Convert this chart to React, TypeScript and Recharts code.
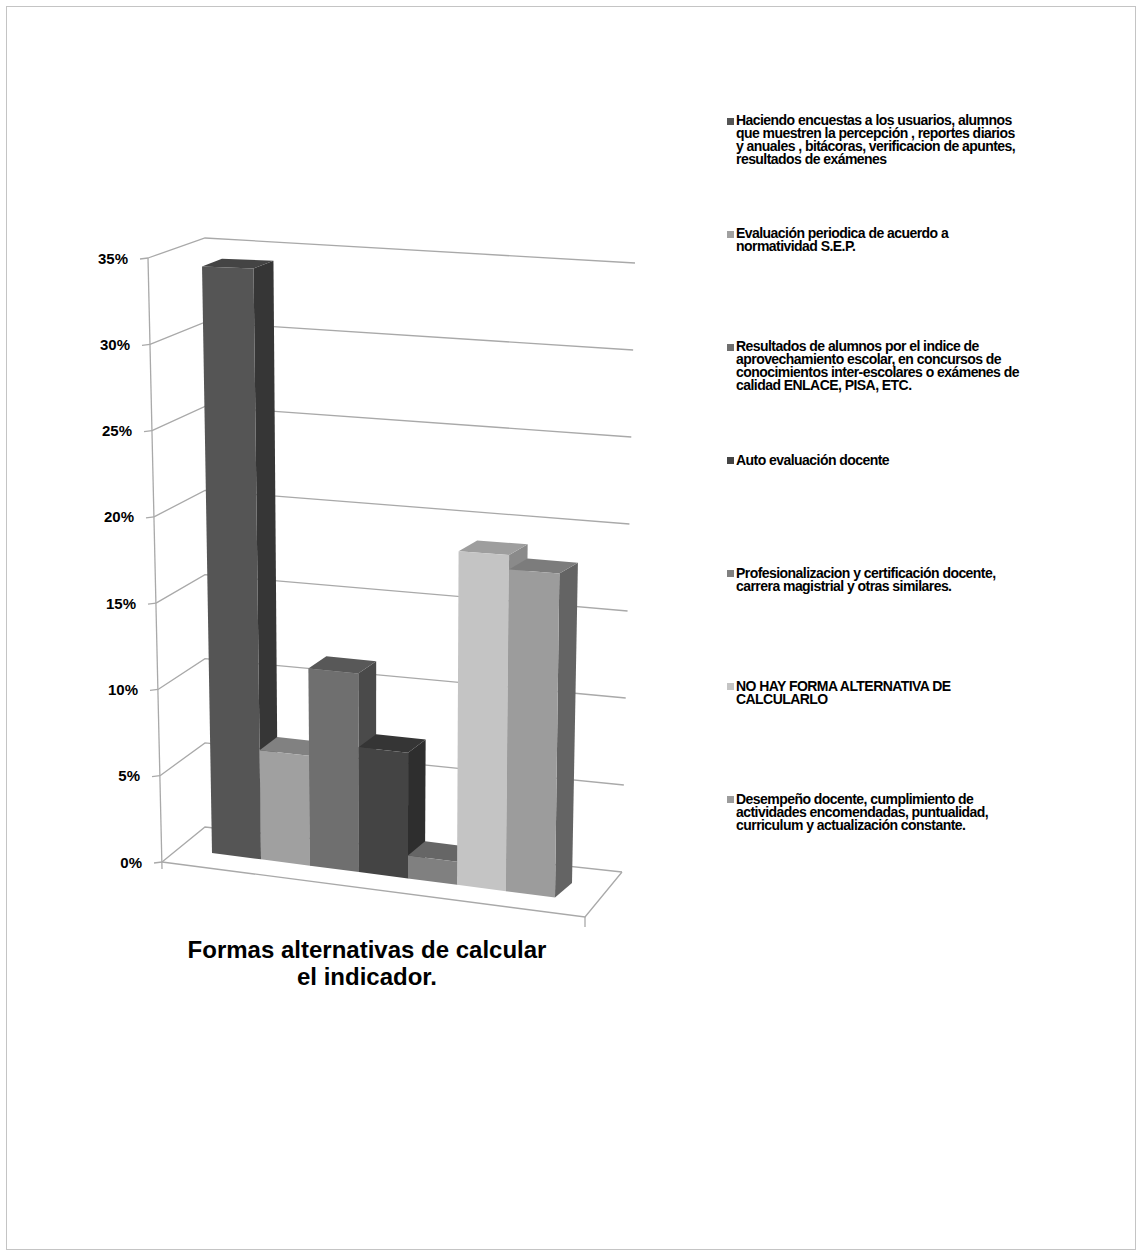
import React from 'react';
import { BarChart, Bar, XAxis, YAxis, CartesianGrid } from 'recharts';

const categories = ['Formas alternativas de calcular el indicador.'];
const seriesNames = [
  'Haciendo encuestas a los usuarios, alumnos\nque muestren la percepción , reportes diarios\ny anuales , bitácoras, verificacion de apuntes,\nresultados de exámenes',
  'Evaluación periodica de acuerdo a\nnormatividad S.E.P.',
  'Resultados de alumnos por el indice de\naprovechamiento escolar, en concursos de\nconocimientos inter-escolares o exámenes de\ncalidad ENLACE, PISA, ETC.',
  'Auto evaluación docente',
  'Profesionalizacion y certificación docente,\ncarrera magistrial y otras similares.',
  'NO HAY FORMA ALTERNATIVA DE\nCALCULARLO',
  'Desempeño docente, cumplimiento de\nactividades encomendadas, puntualidad,\ncurriculum y actualización constante.',
];
const seriesValues = [34.1, 6.3, 11.3, 7.1, 1.3, 18.7, 17.9];
const yTicks = [0, 5, 10, 15, 20, 25, 30, 35];
const tickLabels = ['0%', '5%', '10%', '15%', '20%', '25%', '30%', '35%'];
const titleLines = ['Formas alternativas de calcular', 'el indicador.'];

const frontColors = ['#555555', '#a0a0a0', '#6f6f6f', '#444444', '#808080', '#c4c4c4', '#9c9c9c'];
const topColors = ['#444444', '#818181', '#585858', '#353535', '#666666', '#9e9e9e', '#7c7c7c'];
const sideColors = ['#363636', '#6a6a6a', '#4a4a4a', '#2e2e2e', '#555555', '#8a8a8a', '#646464'];

const W = 1142;
const H = 1256;
const PLOT_TOP = 258;
const PLOT_BOTTOM = 862;
const PLOT_H = PLOT_BOTTOM - PLOT_TOP;
const PLOT_LEFT = 162;
const PLOT_RIGHT = 608;
const FONT = '"Liberation Sans", Arial, sans-serif';
const GRID = '#a9a9a9';

const data = categories.map((name) => {
  const row: Record<string, any> = { name };
  seriesValues.forEach((v, i) => {
    row['s' + i] = v;
  });
  return row;
});

function proj(x: number, hh: number): [number, number] {
  const r = 0.9967 * (1 + 0.000153 * (x - 212));
  const h = hh * r;
  return [x + (x - 403) * h * 8.9e-5, 853 + (x - 212) * 0.13 - h];
}
function depth(hh: number): [number, number] {
  const t = hh / PLOT_H;
  return [17 + 3 * t, -14.5 + 7 * t];
}
const pts = (a: [number, number][]) => a.map((p) => p[0].toFixed(2) + ',' + p[1].toFixed(2)).join(' ');

function Box3D(props: any) {
  const { x, width, height, si } = props;
  const hh = Math.max(0, height || 0);
  const w = width;
  const p1 = proj(x, 0);
  const p2 = proj(x + w, 0);
  const p3 = proj(x + w, hh);
  const p4 = proj(x, hh);
  const dT = depth(hh);
  const d0 = depth(0);
  const top: [number, number][] = [p4, p3, [p3[0] + dT[0], p3[1] + dT[1]], [p4[0] + dT[0], p4[1] + dT[1]]];
  const side: [number, number][] = [p2, p3, [p3[0] + dT[0], p3[1] + dT[1]], [p2[0] + d0[0], p2[1] + d0[1]]];
  const front: [number, number][] = [p1, p2, p3, p4];
  return (
    <g>
      <polygon points={pts(side)} fill={sideColors[si]} />
      <polygon points={pts(top)} fill={topColors[si]} />
      <polygon points={pts(front)} fill={frontColors[si]} />
    </g>
  );
}

function GridLine(props: any) {
  const y = props.y1;
  const t = (PLOT_BOTTOM - y) / PLOT_H;
  const fx = PLOT_LEFT - 14 * t;
  const bx = fx + 43 + 14 * t;
  const by = y - 35 + 15 * t;
  const rx = 622 + 13 * t;
  const ry = 872 - 609 * t;
  const isBase = t < 0.001;
  return (
    <g>
      <path d={`M${fx},${y} L${bx},${by} L${rx},${ry}`} stroke={GRID} strokeWidth={1.3} fill="none" />
      <path d={`M${fx - 8},${y + 1} L${fx},${y}`} stroke={GRID} strokeWidth={1.3} fill="none" />
      {isBase && (
        <g>
          <path d={`M${fx},${y + 7} L${fx - 14},${y - PLOT_H}`} stroke={GRID} strokeWidth={1.3} fill="none" />
          <path d={`M${fx},${y} L585,917 L622,872`} stroke={GRID} strokeWidth={1.3} fill="none" />
          <path d={`M585,917 L585,927`} stroke={GRID} strokeWidth={1.3} fill="none" />
        </g>
      )}
    </g>
  );
}

function YTick(props: any) {
  const { y, payload } = props;
  const t = (PLOT_BOTTOM - y) / PLOT_H;
  const fx = PLOT_LEFT - 14 * t;
  const idx = yTicks.indexOf(payload.value);
  return (
    <text x={fx - 20} y={y + 5.5} textAnchor="end" fontFamily={FONT} fontWeight="bold" fontSize={15} fill="#000">
      {tickLabels[idx]}
    </text>
  );
}

export default function App() {
  return (
    <div style={{ position: 'absolute', left: 0, top: 0, width: W, height: H, background: '#fff', overflow: 'hidden' }}>
      <div style={{ position: 'absolute', left: 6, top: 6, width: 1128, height: 1242, border: '1px solid #c4c4c4' }} />
      <div style={{ position: 'absolute', left: 0, top: 0 }}>
        <BarChart
          width={W}
          height={H}
          data={data}
          margin={{ top: PLOT_TOP, bottom: H - PLOT_BOTTOM, left: PLOT_LEFT - 60, right: W - PLOT_RIGHT }}
          barCategoryGap={50}
          barGap={0}
        >
          <CartesianGrid vertical={false} horizontal={(p: any) => <GridLine {...p} />} />
          <XAxis dataKey="name" hide />
          <YAxis domain={[0, 35]} ticks={yTicks} interval={0} axisLine={false} tickLine={false} width={60} tick={(p: any) => <YTick {...p} />} />
          {seriesValues.map((_, i) => (
            <Bar key={i} dataKey={'s' + i} name={seriesNames[i]} fill={frontColors[i]} isAnimationActive={false} shape={(p: any) => <Box3D {...p} si={i} />} />
          ))}
        </BarChart>
      </div>
      {seriesNames.map((name, i) => {
        const c = 121 + i * 113.1;
        return (
          <div key={i}>
            <div style={{ position: 'absolute', left: 727, top: c - 3.5, width: 7, height: 7, background: frontColors[i] }} />
            <div
              style={{
                position: 'absolute',
                left: 736,
                top: c - 6.8,
                fontFamily: FONT,
                fontWeight: 'bold',
                fontSize: 14,
                lineHeight: '13px',
                letterSpacing: '-0.55px',
                whiteSpace: 'pre',
                color: '#000',
              }}
            >
              {name}
            </div>
          </div>
        );
      })}
      <div
        style={{
          position: 'absolute',
          left: 117,
          top: 936,
          width: 500,
          textAlign: 'center',
          fontFamily: FONT,
          fontWeight: 'bold',
          fontSize: 24,
          lineHeight: '27px',
          letterSpacing: '0px',
          color: '#000',
        }}
      >
        {titleLines.map((l, i) => (
          <div key={i}>{l}</div>
        ))}
      </div>
    </div>
  );
}
